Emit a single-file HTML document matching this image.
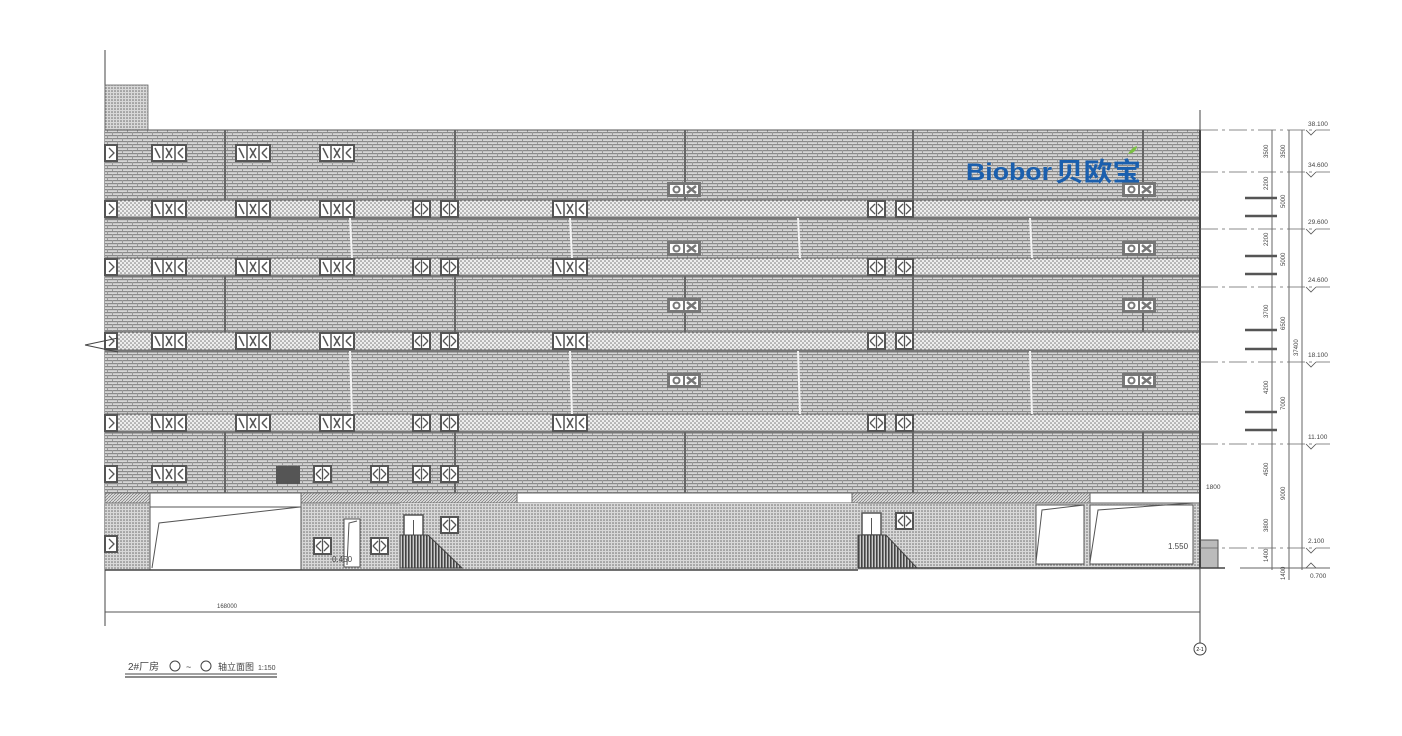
<!DOCTYPE html>
<html><head><meta charset="utf-8"><style>
html,body{margin:0;padding:0;background:#fff;width:1402px;height:736px;overflow:hidden}
svg{display:block}
text{font-family:"Liberation Sans Narrow","Liberation Sans","Noto Sans CJK SC",sans-serif}
</style></head><body>
<svg width="1402" height="736" viewBox="0 0 1402 736" xmlns="http://www.w3.org/2000/svg">
<defs>
<pattern id="brick" width="10" height="6" patternUnits="userSpaceOnUse">
<rect width="10" height="6" fill="#d6d6d6"/>
<rect x="0" y="0" width="10" height="1.2" fill="#8a8a8a"/>
<rect x="0" y="3" width="10" height="1.2" fill="#8a8a8a"/>
<rect x="2" y="0" width="1" height="3" fill="#999"/>
<rect x="7" y="3" width="1" height="3" fill="#999"/>
</pattern>
<pattern id="dots" width="4" height="4" patternUnits="userSpaceOnUse">
<rect width="4" height="4" fill="#eee"/>
<circle cx="1" cy="1" r="0.8" fill="#777"/><circle cx="3" cy="3" r="0.8" fill="#777"/>
</pattern>
<pattern id="dense" width="3" height="3" patternUnits="userSpaceOnUse">
<rect width="3" height="3" fill="#d8d8d8"/>
<circle cx="1" cy="1" r="0.75" fill="#666"/>
</pattern>
<pattern id="hatch" width="3" height="3" patternUnits="userSpaceOnUse">
<rect width="3" height="3" fill="#ddd"/><path d="M0 3L3 0" stroke="#777" stroke-width="0.7"/>
</pattern>
<pattern id="vstripe" width="3" height="3" patternUnits="userSpaceOnUse">
<rect width="3" height="3" fill="#ccc"/><rect width="1.6" height="3" fill="#444"/>
</pattern>
<g id="w3"><rect x="0" y="0" width="34" height="16" fill="#fff" stroke="#555" stroke-width="2"/><path d="M11 0V16M23 0V16M3 3L8 13M14 3L20 13M20 3L14 13M26 8L31 3M26 8L31 13" stroke="#555" stroke-width="1.5" fill="none"/></g>
<g id="w1"><rect x="0" y="0" width="17" height="16" fill="#fff" stroke="#555" stroke-width="2"/><path d="M8.5 0V16M2 8L7 3M2 8L7 13M15 8L10 3M15 8L10 13" stroke="#555" stroke-width="1.3" fill="none"/></g>
<g id="we"><rect x="0" y="0" width="12" height="16" fill="#fff" stroke="#555" stroke-width="2"/><path d="M4 3L9 8L4 13" stroke="#555" stroke-width="1.3" fill="none"/></g>
<g id="ox"><rect x="0" y="0" width="34" height="15" fill="#777"/><rect x="3" y="3" width="13" height="9" fill="#fff"/><rect x="18" y="3" width="13" height="9" fill="#fff"/><circle cx="9.5" cy="7.5" r="3" fill="none" stroke="#777" stroke-width="2"/><path d="M20 4L29 11M29 4L20 11" stroke="#777" stroke-width="2.5"/></g>
</defs>

<line x1="105" y1="50" x2="105" y2="626" stroke="#444" stroke-width="1"/>
<rect x="105" y="85" width="43" height="45" fill="url(#dense)" stroke="#666" stroke-width="0.8"/>

<rect x="105" y="130" width="1095" height="363" fill="url(#brick)"/>
<line x1="105" y1="130" x2="1200" y2="130" stroke="#555"/>
<g fill="url(#dots)" stroke="#555" stroke-width="1">
<rect x="105" y="200" width="1095" height="18"/>
<rect x="105" y="258" width="1095" height="18"/>
<rect x="105" y="332" width="1095" height="19"/>
<rect x="105" y="414" width="1095" height="18"/>
</g>
<g stroke="#777" stroke-width="3">
<line x1="105" y1="218" x2="1200" y2="218"/><line x1="105" y1="276" x2="1200" y2="276"/>
<line x1="105" y1="351" x2="1200" y2="351"/><line x1="105" y1="432" x2="1200" y2="432"/>
</g>
<g stroke="#666" stroke-width="2">
<path d="M225 130V200M455 130V200M685 130V200M913 130V200M1143 130V200"/>
<path d="M225 276V332M455 276V332M685 276V332M913 276V332M1143 276V332"/>
<path d="M225 432V493M455 432V493M685 432V493M913 432V493M1143 432V493"/>
</g>
<g stroke="#f4f4f4" stroke-width="2">
<path d="M350 218L352 258M570 218L572 258M798 218L800 258M1030 218L1032 258"/>
<path d="M350 351L352 414M570 351L572 414M798 351L800 414M1030 351L1032 414"/>
</g>
<g>
<use href="#we" x="105" y="145"/><use href="#w3" x="152" y="145"/><use href="#w3" x="236" y="145"/><use href="#w3" x="320" y="145"/>
<use href="#we" x="105" y="201"/><use href="#w3" x="152" y="201"/><use href="#w3" x="236" y="201"/><use href="#w3" x="320" y="201"/><use href="#w1" x="413" y="201"/><use href="#w1" x="441" y="201"/><use href="#w3" x="553" y="201"/><use href="#w1" x="868" y="201"/><use href="#w1" x="896" y="201"/>
<use href="#we" x="105" y="259"/><use href="#w3" x="152" y="259"/><use href="#w3" x="236" y="259"/><use href="#w3" x="320" y="259"/><use href="#w1" x="413" y="259"/><use href="#w1" x="441" y="259"/><use href="#w3" x="553" y="259"/><use href="#w1" x="868" y="259"/><use href="#w1" x="896" y="259"/>
<use href="#we" x="105" y="333"/><use href="#w3" x="152" y="333"/><use href="#w3" x="236" y="333"/><use href="#w3" x="320" y="333"/><use href="#w1" x="413" y="333"/><use href="#w1" x="441" y="333"/><use href="#w3" x="553" y="333"/><use href="#w1" x="868" y="333"/><use href="#w1" x="896" y="333"/>
<use href="#we" x="105" y="415"/><use href="#w3" x="152" y="415"/><use href="#w3" x="236" y="415"/><use href="#w3" x="320" y="415"/><use href="#w1" x="413" y="415"/><use href="#w1" x="441" y="415"/><use href="#w3" x="553" y="415"/><use href="#w1" x="868" y="415"/><use href="#w1" x="896" y="415"/>
<use href="#we" x="105" y="466"/><use href="#w3" x="152" y="466"/><rect x="276" y="466" width="24" height="18" fill="#555"/><use href="#w1" x="314" y="466"/><use href="#w1" x="371" y="466"/><use href="#w1" x="413" y="466"/><use href="#w1" x="441" y="466"/>
<use href="#ox" x="667" y="182"/><use href="#ox" x="1122" y="182"/>
<use href="#ox" x="667" y="241"/><use href="#ox" x="1122" y="241"/>
<use href="#ox" x="667" y="298"/><use href="#ox" x="1122" y="298"/>
<use href="#ox" x="667" y="373"/><use href="#ox" x="1122" y="373"/>
</g>
<text x="966" y="180" font-family="Liberation Sans,sans-serif" font-weight="bold" font-size="24" fill="#1a5fae" textLength="86" lengthAdjust="spacingAndGlyphs">Biobor</text>
<text x="1055" y="181" font-family="Noto Sans CJK SC,sans-serif" font-weight="bold" font-size="26" fill="#1a5fae" textLength="86" lengthAdjust="spacingAndGlyphs">贝欧宝</text>
<path d="M1128 154q4-7 9-8q-1 7-9 8z" fill="#7bc143"/>

<rect x="105" y="493" width="1095" height="77" fill="url(#dense)"/>
<rect x="105" y="493" width="1095" height="10" fill="url(#hatch)" stroke="#666" stroke-width="0.8"/>
<rect x="150" y="493" width="151" height="14" fill="#fff" stroke="#666"/>
<rect x="517" y="493" width="335" height="10" fill="#fff" stroke="#666"/>
<rect x="150" y="507" width="151" height="63" fill="#fff" stroke="#555"/>
<path d="M152 568L159 523L300 507" stroke="#555" fill="none"/>
<rect x="400" y="503" width="458" height="67" fill="url(#dense)"/>
<rect x="1090" y="493" width="110" height="10" fill="#fff" stroke="#666"/>
<rect x="1036" y="505" width="48" height="59" fill="#fff" stroke="#555"/>
<path d="M1036 562L1042 510L1084 505" stroke="#555" fill="none"/>
<rect x="1090" y="505" width="103" height="59" fill="#fff" stroke="#555"/>
<path d="M1090 562L1098 510L1193 503" stroke="#555" fill="none"/>
<rect x="344" y="519" width="16" height="48" fill="#fff" stroke="#555"/>
<path d="M347 565L349 523L357 521" stroke="#555" fill="none"/>
<use href="#w1" x="314" y="538"/><use href="#w1" x="371" y="538"/><use href="#we" x="105" y="536"/>
<use href="#w1" x="441" y="517"/><use href="#w1" x="896" y="513"/>
<rect x="404" y="515" width="19" height="22" fill="#fff" stroke="#555" stroke-width="1.5"/><line x1="413.5" y1="520" x2="413.5" y2="537" stroke="#555"/>
<rect x="862" y="513" width="19" height="22" fill="#fff" stroke="#555" stroke-width="1.5"/><line x1="871.5" y1="518" x2="871.5" y2="535" stroke="#555"/>
<path d="M400 535H428L462 568H400Z" fill="url(#vstripe)" stroke="#444"/>
<path d="M858 535H886L917 568H858Z" fill="url(#vstripe)" stroke="#444"/>
<rect x="1200" y="540" width="18" height="28" fill="#bbb" stroke="#555"/>
<line x1="105" y1="570" x2="858" y2="570" stroke="#444" stroke-width="1.5"/>
<line x1="858" y1="568" x2="1225" y2="568" stroke="#444" stroke-width="1.5"/>
<line x1="1200" y1="130" x2="1200" y2="568" stroke="#444" stroke-width="2"/>
<text x="1168" y="549" font-size="8" fill="#444">1.550</text>
<text x="332" y="562" font-size="8" fill="#444">0.450</text>

<line x1="1200" y1="110" x2="1200" y2="643" stroke="#444"/>
<circle cx="1200" cy="649" r="6" fill="#fff" stroke="#444"/>
<text x="1200" y="651" font-size="5" text-anchor="middle">2-1</text>
<line x1="105" y1="612" x2="1200" y2="612" stroke="#555"/>
<text x="217" y="608" font-size="6" fill="#444">168000</text>
<path d="M85 345L118 338M85 345L118 352" stroke="#444" fill="none"/>

<g stroke="#666" stroke-width="0.8" stroke-dasharray="18 4 3 4">
<line x1="1200" y1="130" x2="1330" y2="130"/><line x1="1200" y1="172" x2="1330" y2="172"/>
<line x1="1200" y1="229" x2="1330" y2="229"/><line x1="1200" y1="287" x2="1330" y2="287"/>
<line x1="1200" y1="362" x2="1330" y2="362"/><line x1="1200" y1="444" x2="1330" y2="444"/>
<line x1="1200" y1="548" x2="1330" y2="548"/>
</g>
<line x1="1240" y1="568" x2="1330" y2="568" stroke="#666"/>
<g stroke="#666"><line x1="1272" y1="130" x2="1272" y2="570"/><line x1="1289" y1="130" x2="1289" y2="580"/><line x1="1302" y1="130" x2="1302" y2="570"/></g>
<g stroke="#555" stroke-width="2.5">
<path d="M1245 198H1277M1245 216H1277M1245 256H1277M1245 274H1277M1245 330H1277M1245 349H1277M1245 412H1277M1245 430H1277"/>
</g>
<g font-size="6.5" fill="#444">
<text x="1308" y="126">38.100</text><text x="1308" y="167">34.600</text><text x="1308" y="224">29.600</text><text x="1308" y="282">24.600</text><text x="1308" y="357">18.100</text><text x="1308" y="439">11.100</text><text x="1308" y="543">2.100</text><text x="1310" y="578">0.700</text>
<text x="1206" y="489">1800</text>
</g>
<g fill="none" stroke="#555" stroke-width="0.8">
<path d="M1306 130l5 5l5-5M1306 172l5 5l5-5M1306 229l5 5l5-5M1306 287l5 5l5-5M1306 362l5 5l5-5M1306 444l5 5l5-5M1306 548l5 5l5-5M1306 568l5-5l5 5"/>
</g>
<g font-size="6" fill="#444">
<text transform="translate(1268,158) rotate(-90)">3500</text><text transform="translate(1285,158) rotate(-90)">3500</text>
<text transform="translate(1268,190) rotate(-90)">2200</text><text transform="translate(1285,208) rotate(-90)">5000</text>
<text transform="translate(1268,246) rotate(-90)">2200</text><text transform="translate(1285,266) rotate(-90)">5000</text>
<text transform="translate(1268,318) rotate(-90)">3700</text><text transform="translate(1285,330) rotate(-90)">6500</text>
<text transform="translate(1268,394) rotate(-90)">4200</text><text transform="translate(1285,410) rotate(-90)">7000</text>
<text transform="translate(1268,476) rotate(-90)">4500</text><text transform="translate(1285,500) rotate(-90)">9000</text>
<text transform="translate(1268,532) rotate(-90)">3800</text><text transform="translate(1268,562) rotate(-90)">1400</text>
<text transform="translate(1285,580) rotate(-90)">1400</text><text transform="translate(1298,356) rotate(-90)">37400</text>
</g>

<text x="128" y="670" font-size="10" fill="#444">2#厂房</text>
<circle cx="175" cy="666" r="5" fill="none" stroke="#444"/><text x="186" y="670" font-size="9" fill="#444">~</text>
<circle cx="206" cy="666" r="5" fill="none" stroke="#444"/>
<text x="218" y="670" font-size="9" fill="#444">轴立面图</text><text x="258" y="670" font-size="7" fill="#444">1:150</text>
<line x1="125" y1="674" x2="277" y2="674" stroke="#444"/>
<line x1="125" y1="677" x2="277" y2="677" stroke="#666" stroke-width="1.5"/>
</svg>
</body></html>
